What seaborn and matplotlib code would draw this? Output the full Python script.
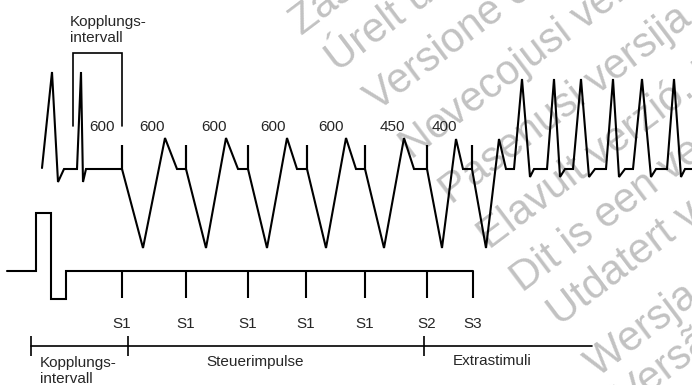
"""Programmed stimulation schematic: coupling interval, S1 drive train, S2/S3 extrastimuli."""

import pandas as pd
import matplotlib.pyplot as plt
import seaborn as sns

sns.set_theme(style='white')
plt.rcParams['font.family'] = ['Liberation Sans', 'DejaVu Sans']

# ECG trace (time in px, amplitude in px, screen y grows downward)
ecg_t = [42, 52, 58, 64, 77, 81, 83, 86, 122, 122, 122,
         143, 165, 177, 186, 186, 186,
         206, 226, 238, 248, 248, 248,
         267, 287, 297, 307, 307, 307,
         326, 346, 356, 365, 365, 365,
         384, 404, 414, 427, 427, 427,
         442, 456, 463, 472, 472, 472,
         486, 499, 506, 514,
         522, 530, 534, 547, 554, 560, 565, 573, 581, 589, 595, 606,
         613, 619, 625, 633, 642, 651, 656, 667, 674, 681, 685, 692]
ecg_v = [168, 72, 182, 169, 169, 72, 182, 169, 169, 145, 169,
         248, 138, 169, 169, 145, 169,
         248, 138, 169, 169, 145, 169,
         248, 138, 169, 169, 145, 169,
         248, 138, 169, 169, 145, 169,
         248, 138, 169, 169, 145, 169,
         248, 139, 169, 169, 145, 169,
         248, 139, 169, 169,
         79, 177, 169, 169, 79, 177, 169, 169, 79, 177, 169, 169,
         79, 177, 169, 169, 79, 177, 169, 169, 79, 177, 169, 169]

# stimulator channel
stim_t = [7, 36, 36, 51, 51, 66, 66, 473]
stim_v = [271, 271, 213, 213, 299, 299, 271, 271]
pulse_t = [122, 186, 248, 306, 365, 427, 473]
pulse_names = ['S1', 'S1', 'S1', 'S1', 'S1', 'S2', 'S3']

# interval labels (ms)
interval_ms = ['600', '600', '600', '600', '600', '450', '400']
interval_pos = [102, 152, 214, 273, 331, 392, 444]

# timeline segments
phase_marks = [31, 128, 424]
phase_names = ['Kopplungs-\nintervall', 'Steuerimpulse', 'Extrastimuli']

watermark = ['Zastaralá verze. Nepoužívat.', 'Úrelt útgáfa. Notið ekki.',
             'Versione obsoleta. Non utilizzare.', 'Novecojusi versija. Neizmantot.',
             'Pasenusi versija. Nenaudokite.', 'Elavult verzió. Ne használja!',
             'Dit is een verouderde versie. Niet gebruiken.',
             'Utdatert versjon. Skal ikke brukes.', 'Wersja przeterminowana. Nie używać.',
             'Versão obsoleta. Não utilize.']
wm_x = [302, 338, 377, 412, 452, 490, 523, 560, 598, 628]
wm_y = [36, 73, 112, 160, 205, 250, 293, 327, 378, 410]

fig = plt.figure(figsize=(6.92, 3.85), dpi=100)
ax = fig.add_axes([0, 0, 1, 1])

# watermark underneath
for txt, x, y in zip(watermark, wm_x, wm_y):
    ax.text(x, y, txt, rotation=37, rotation_mode='anchor', ha='left', va='baseline',
            fontsize=30, color='#c2c2c2', zorder=0)

lw = 1.5
ecg = pd.DataFrame({'t': ecg_t, 'v': ecg_v})
sns.lineplot(data=ecg, x='t', y='v', sort=False, estimator=None, color='black',
             linewidth=lw, ax=ax)
stim = pd.DataFrame({'t': stim_t, 'v': stim_v})
sns.lineplot(data=stim, x='t', y='v', sort=False, estimator=None, color='black',
             linewidth=lw, ax=ax)
for line in ax.lines:
    line.set_solid_joinstyle('miter')

ax.vlines(pulse_t, 271, 298, color='black', linewidth=lw)
for x, name in zip(pulse_t, pulse_names):
    ax.text(x, 324, name, ha='center', va='center', fontsize=11)

# coupling interval bracket
ax.plot([73, 73, 122, 122], [126, 53, 53, 126], color='black', linewidth=1.2,
        solid_joinstyle='miter')
ax.text(70, 30, 'Kopplungs-\nintervall', ha='left', va='center', fontsize=11)

for x, lab in zip(interval_pos, interval_ms):
    ax.text(x, 127, lab, ha='center', va='center', fontsize=11)

# timeline
ax.plot([31, 592], [346, 346], color='black', linewidth=1.2)
ax.vlines(phase_marks, 336, 356, color='black', linewidth=1.2)
ax.text(40, 371, phase_names[0], ha='left', va='center', fontsize=11)
ax.text(255, 362, phase_names[1], ha='center', va='center', fontsize=11)
ax.text(492, 361, phase_names[2], ha='center', va='center', fontsize=11)

ax.set_xlim(0, 692)
ax.set_ylim(385, 0)
ax.axis('off')

plt.savefig('out.png', dpi=100)
plt.close()
